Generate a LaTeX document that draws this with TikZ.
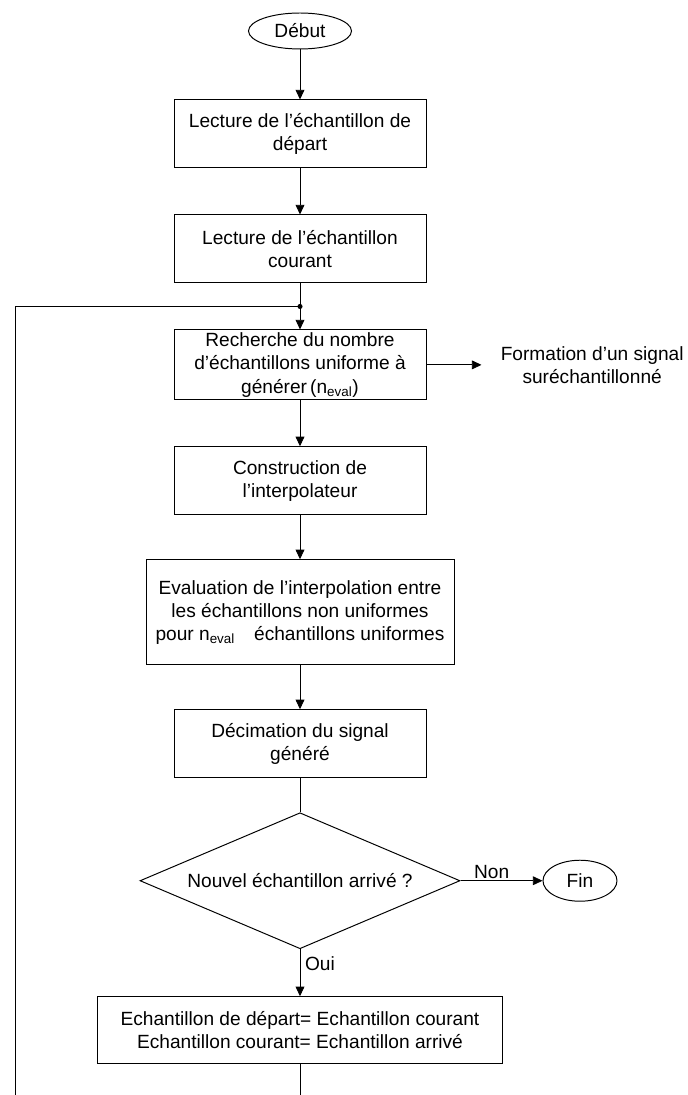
\documentclass[tikz,border=0pt]{standalone}
\usepackage{fontspec}
\setmainfont{Liberation Sans}
\usetikzlibrary{arrows.meta,positioning,shapes.geometric}
\tikzset{
  stepbox/.style={
    draw, line width=0.7pt, minimum width=6.3cm, minimum height=1.7cm,
    align=center, inner sep=2pt
  },
  terminal/.style={ellipse, draw, line width=0.7pt, inner sep=1pt},
  decision/.style={
    diamond, draw, line width=0.7pt, aspect=2.35,
    minimum width=8cm, minimum height=3.4cm, inner sep=0pt
  },
  flow/.style={-{Triangle[length=2.4mm,width=2.2mm]}, line width=0.6pt},
  plain/.style={line width=0.6pt}
}

\begin{document}
\begin{tikzpicture}[node distance=1.15cm, font=\fontsize{13.6}{16.5}\selectfont]
    \useasboundingbox (0,0) rectangle (17.175,-27.375);
    \node[terminal,minimum width=2.575cm,minimum height=0.9cm] (debut) at (7.5,-0.775) {Début};
    \node[stepbox,below=1.25cm of debut] (lecdep) {Lecture de l’échantillon de\\départ};
    \node[stepbox,below=of lecdep] (leccour) {Lecture de l’échantillon\\courant};
    \node[stepbox,below=of leccour] (recherche) {Recherche du nombre\\d’échantillons uniforme à\\générer\,(n\textsubscript{eval})};
    \node[stepbox,below=of recherche] (construct) {Construction de\\l’interpolateur};
    \node[stepbox,below=1.1cm of construct,minimum width=7.7cm,minimum height=2.625cm] (evalinterp)
      {Evaluation de l’interpolation entre\\les échantillons non uniformes\\pour n\textsubscript{eval}\quad échantillons uniformes};
    \node[stepbox,below=1.1cm of evalinterp] (decim) {Décimation du signal\\généré};
    \node[decision,below=0.85cm of decim] (test) {Nouvel échantillon arrivé ?};
    \node[terminal,right=2.05cm of test,minimum width=1.85cm,minimum height=1.025cm] (fin) {Fin};
    \node[stepbox,below=1.175cm of test,minimum width=10.125cm,minimum height=1.675cm] (maj)
      {Echantillon de départ= Echantillon courant\\Echantillon courant= Echantillon arrivé};
    \node[right=1.85cm of recherche,align=center,inner sep=0pt] (sortie) {Formation d’un signal\\suréchantillonné};
    % boucle de retour
    \path (leccour.south) -- coordinate[pos=0.5] (jonction) (recherche.north);
    \coordinate (basmilieu) at (maj.south |- 0,-27.375);
    \coordinate (basgauche) at (0.375,-27.375);
    \draw[flow] (debut) -- (lecdep);
    \draw[flow] (lecdep) -- (leccour);
    \draw[plain] (leccour) -- (jonction);
    \draw[flow] (jonction) -- (recherche);
    \draw[flow] (recherche) -- (construct);
    \draw[flow] (construct) -- (evalinterp);
    \draw[flow] (evalinterp) -- (decim);
    \draw[plain] (decim) -- (test);
    \draw[flow] (test.east) -- node[above,pos=0.38,inner sep=1pt] {Non} (fin.west);
    \draw[flow] (test.south) -- node[right,pos=0.3] {Oui} (maj.north);
    \draw[flow,shorten >=0.475cm] (recherche.east) -- (recherche.east -| sortie.west);
    \draw[plain] (maj) -- (basmilieu);
    \draw[plain] (basgauche) |- (jonction);
    \fill (jonction) circle (1.8pt);
  \end{tikzpicture}
\end{document}
